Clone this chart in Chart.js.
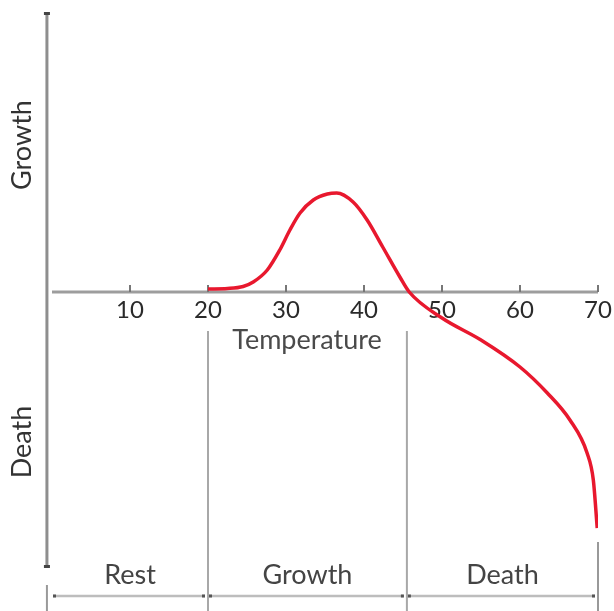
<!DOCTYPE html>
<html>
<head>
<meta charset="utf-8">
<script src="https://cdn.jsdelivr.net/npm/chart.js@4/dist/chart.umd.min.js"></script>
<style>
html,body{margin:0;padding:0;background:#fff;}
#wrap{width:614px;height:611px;position:relative;}
</style>
</head>
<body>
<div id="wrap"><canvas id="c"></canvas></div>
<script>
// Data
const temps  = [20, 22.5, 24.5, 25.8, 27.6, 29.2, 30.5, 31.8, 33.5, 35.3, 36.5, 38.6, 40.4, 42.4, 44.6, 45.8, 50, 55, 60, 63.5, 66.4, 68.6, 69.4, 69.9];
const growth = [0.3, 0.35, 0.55, 1.0, 2.2, 4.2, 6.2, 7.9, 9.2, 9.8, 9.9, 9.0, 7.2, 4.5, 1.5, 0, -2.6, -4.8, -7.5, -10.1, -12.8, -16.1, -18.8, -23.6];
const tickValues = [10, 20, 30, 40, 50, 60, 70];
const zoneBounds = [0, 20, 45.5, 70];
const zoneLabels = ['Rest', 'Growth', 'Death'];
const xTitle = 'Temperature';
const yLabels = [{text: 'Growth', v: 14.7}, {text: 'Death', v: -15.0}];

const FONT = 'Lato, "Open Sans", sans-serif';

const diagram = {
  id: 'diagram',
  beforeDatasetsDraw(chart) {
    const ctx = chart.ctx;
    const xs = chart.scales.x, ys = chart.scales.y;
    const X = v => xs.getPixelForValue(v), Y = v => ys.getPixelForValue(v);
    const y0 = Y(0);
    ctx.save();
    // horizontal axis
    ctx.strokeStyle = '#9d9d9d';
    ctx.lineWidth = 3;
    ctx.beginPath(); ctx.moveTo(X(0), y0); ctx.lineTo(X(70), y0); ctx.stroke();
    // ticks
    ctx.strokeStyle = '#777';
    ctx.lineWidth = 2;
    tickValues.forEach(t => {
      ctx.beginPath(); ctx.moveTo(X(t), y0); ctx.lineTo(X(t), y0 - 7); ctx.stroke();
    });
    // tick labels
    ctx.fillStyle = '#2a2a2a';
    ctx.font = '24px ' + FONT;
    ctx.textAlign = 'center'; ctx.textBaseline = 'middle';
    tickValues.forEach(t => ctx.fillText(String(t), X(t), Y(-1.8)));
    // x title
    ctx.fillStyle = '#4a4a4a';
    ctx.font = '27px ' + FONT;
    ctx.fillText(xTitle, X(32.7), Y(-4.8));
    // vertical axis
    const xv = X(-0.65);
    ctx.strokeStyle = '#8e8e8e';
    ctx.lineWidth = 3;
    ctx.beginPath(); ctx.moveTo(xv, Y(28)); ctx.lineTo(xv, Y(-27.6)); ctx.stroke();
    ctx.fillStyle = '#444';
    ctx.fillRect(xv - 3, Y(28), 6, 3);
    ctx.fillRect(xv - 3, Y(-27.6) - 3, 6, 3);
    // y labels rotated
    ctx.fillStyle = '#333';
    ctx.font = '27px ' + FONT;
    yLabels.forEach(l => {
      ctx.save();
      ctx.translate(X(-3.75), Y(l.v));
      ctx.rotate(-Math.PI / 2);
      ctx.fillText(l.text, 0, 0);
      ctx.restore();
    });
    // zone dividers
    ctx.strokeStyle = '#a8a8a8';
    ctx.lineWidth = 2;
    [zoneBounds[1], zoneBounds[2]].forEach(b => {
      ctx.beginPath(); ctx.moveTo(X(b), Y(-3.9)); ctx.lineTo(X(b), Y(-32)); ctx.stroke();
    });
    ctx.strokeStyle = '#999';
    ctx.beginPath(); ctx.moveTo(X(70), Y(-25)); ctx.lineTo(X(70), Y(-32)); ctx.stroke();
    ctx.beginPath(); ctx.moveTo(X(-0.65), Y(-29.3)); ctx.lineTo(X(-0.65), Y(-32)); ctx.stroke();
    // dimension lines + labels
    const yd = Y(-30.4);
    for (let i = 0; i < zoneLabels.length; i++) {
      const a = X(zoneBounds[i]) + 1, b = X(zoneBounds[i + 1]) - 3;
      ctx.strokeStyle = '#bdbdbd';
      ctx.lineWidth = 2.5;
      ctx.beginPath(); ctx.moveTo(a, yd); ctx.lineTo(b, yd); ctx.stroke();
      ctx.fillStyle = '#555';
      ctx.fillRect(a, yd - 1.5, 3, 3);
      ctx.fillRect(b - 3, yd - 1.5, 3, 3);
      ctx.fillStyle = '#444';
      ctx.font = '27px ' + FONT;
      ctx.fillText(zoneLabels[i], (X(zoneBounds[i]) + X(zoneBounds[i + 1])) / 2, Y(-28.3));
    }
    ctx.restore();
  }
};

new Chart(document.getElementById('c'), {
  type: 'line',
  data: {
    datasets: [{
      data: temps.map((t, i) => ({x: t, y: growth[i]})),
      borderColor: '#e8182e',
      borderWidth: 3.5,
      pointRadius: 0,
      cubicInterpolationMode: 'monotone',
      fill: false
    }]
  },
  options: {
    responsive: true,
    maintainAspectRatio: false,
    animation: false,
    layout: {padding: {left: 52, right: 16, top: 12, bottom: 43}},
    plugins: {legend: {display: false}, tooltip: {enabled: false}},
    scales: {
      x: {type: 'linear', display: false, min: 0, max: 70},
      y: {display: false, min: -27.6, max: 28}
    }
  },
  plugins: [diagram]
});
</script>
</body>
</html>
